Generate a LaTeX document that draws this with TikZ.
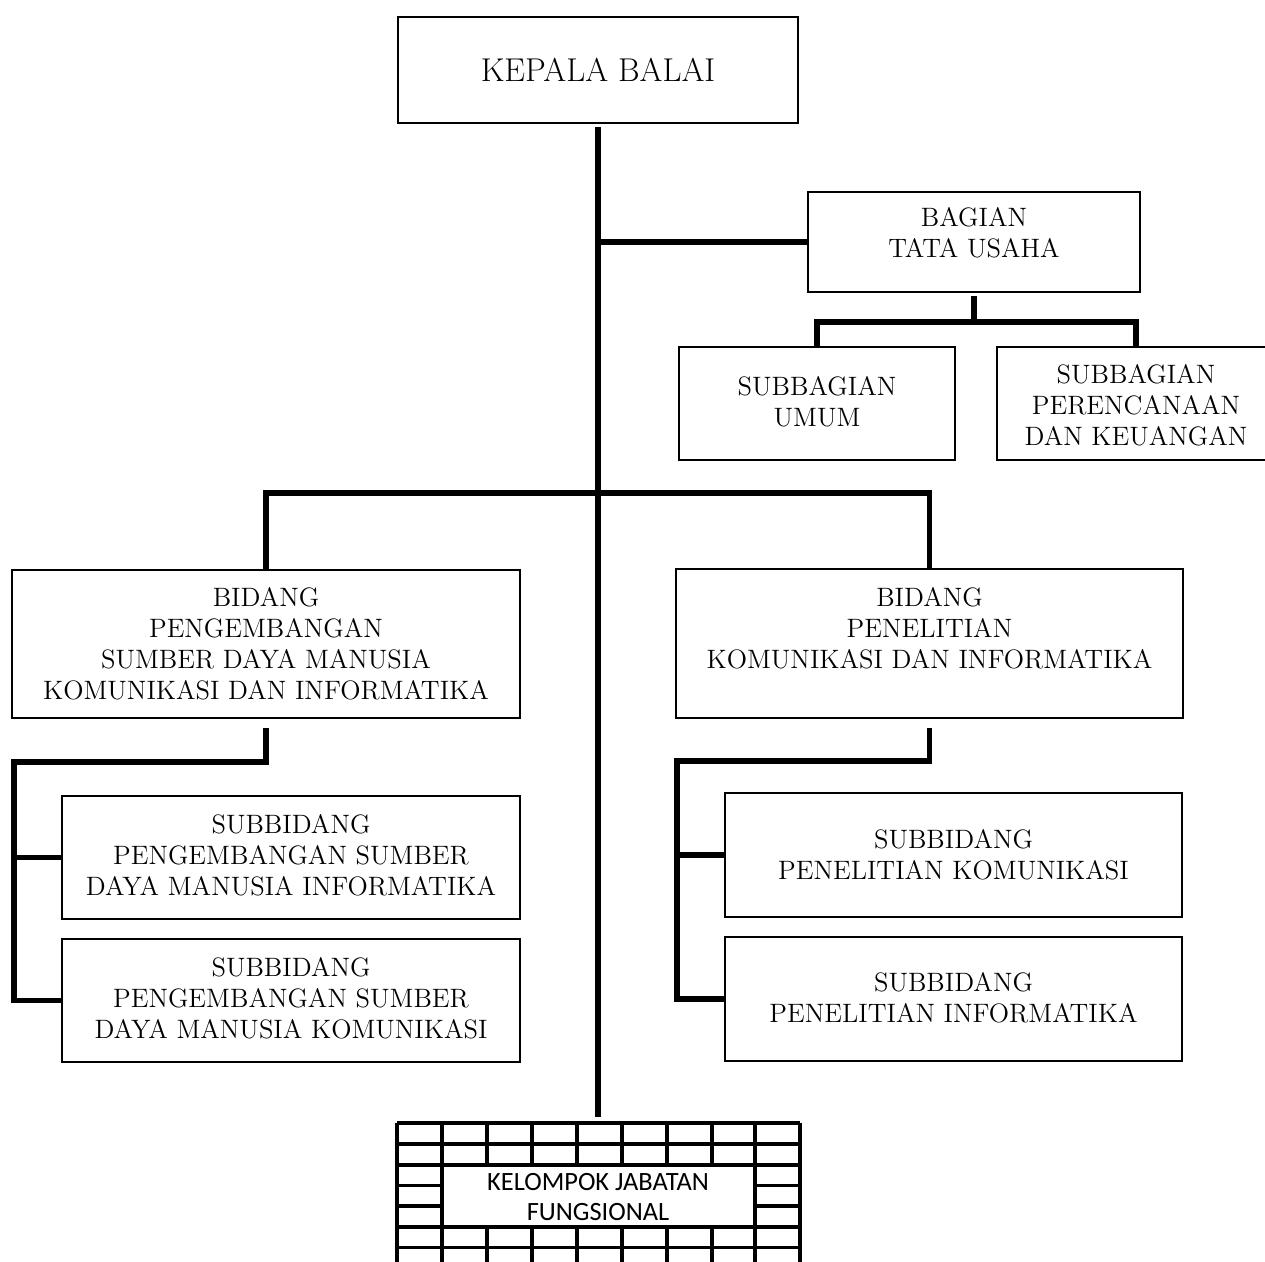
\documentclass[tikz,border=0pt]{standalone}
\usepackage{fontspec}
\newfontfamily\carlito{Carlito}
\begin{document}
\begin{tikzpicture}[x=0.5pt,y=-0.5pt,
  box/.style={draw=black,line width=1.3pt,inner sep=0pt,outer sep=0pt,fill=white},
  txt/.style={align=center,inner sep=0pt,font=\fontsize{13.3}{15.5}\selectfont},
  conn/.style={draw=black,line width=2.6pt,line join=miter},
  gridl/.style={draw=black,line width=1.6pt}]
\useasboundingbox (0,0) rectangle (1265,1262);
\clip (0,0) rectangle (1265,1262);
\fill[white] (0,0) rectangle (1265,1262);

% boxes
\node[box,minimum width=200pt,minimum height=53pt] (kb) at (598,70) {};
\node[box,minimum width=166pt,minimum height=50pt] (bag) at (974,242) {};
\node[box,minimum width=138pt,minimum height=56.5pt] (umum) at (817,403.5) {};
\node[box,minimum width=139pt,minimum height=56.5pt] (per) at (1136,403.5) {};
\node[box,minimum width=254pt,minimum height=74pt] (bidL) at (266,644) {};
\node[box,minimum width=253.5pt,minimum height=74.5pt] (bidR) at (929.5,643.5) {};
\node[box,minimum width=229pt,minimum height=61.5pt] (s1L) at (291,857.5) {};
\node[box,minimum width=229pt,minimum height=61.5pt] (s2L) at (291,1000.5) {};
\node[box,minimum width=228.5pt,minimum height=62pt] (s1R) at (953.5,855) {};
\node[box,minimum width=228.5pt,minimum height=62pt] (s2R) at (953.5,999) {};

% texts
\node[txt,font=\fontsize{16.5}{19}\selectfont] (kbt) at (598,70) {KEPALA BALAI};
\node[txt] (bagt) at (974,233) {BAGIAN\\TATA USAHA};
\node[txt] (umumt) at (817,402) {SUBBAGIAN\\UMUM};
\node[txt] (pert) at (1136,405) {SUBBAGIAN\\PERENCANAAN\\DAN KEUANGAN};
\node[txt] (bidLt) at (266,644) {BIDANG\\PENGEMBANGAN\hspace*{1em}\\SUMBER DAYA MANUSIA\\KOMUNIKASI DAN INFORMATIKA};
\node[txt] (bidRt) at (929.5,628.5) {BIDANG\\PENELITIAN\\KOMUNIKASI DAN INFORMATIKA};
\node[txt] (s1Lt) at (291,855) {SUBBIDANG\\PENGEMBANGAN SUMBER\\DAYA MANUSIA INFORMATIKA};
\node[txt] (s2Lt) at (291,998) {SUBBIDANG\\PENGEMBANGAN SUMBER\\DAYA MANUSIA KOMUNIKASI};
\node[txt] (s1Rt) at (953.5,855) {SUBBIDANG\\PENELITIAN KOMUNIKASI};
\node[txt] (s2Rt) at (953.5,998) {SUBBIDANG\\PENELITIAN INFORMATIKA};

% connectors
\coordinate (gridtop) at (598,1117);
\draw[conn] ([yshift=-2pt]kb.south) -- (gridtop);
\draw[conn] (kb.south |- bag.west) -- (bag.west);
\coordinate (bagj) at (974,322);
\draw[conn] ([yshift=-2pt]bag.south) -- (bagj);
\draw[conn] (umum.north) |- (bagj) -| (per.north);
\coordinate (hj) at (598,493);
\draw[conn] (bidL.north) |- (hj) -| (bidR.north);
\coordinate (lj) at (14,762);
\draw[conn] ([yshift=-5pt]bidL.south) |- (lj) |- (s2L.west);
\draw[conn] (lj |- s1L.west) -- (s1L.west);
\coordinate (rj) at (677,761);
\draw[conn] ([yshift=-5pt]bidR.south) |- (rj) |- (s2R.west);
\draw[conn] (rj |- s1R.west) -- (s1R.west);

% grid of kelompok jabatan fungsional
\foreach \yy in {1123,1144,1165,1227,1247.5,1268}
  \draw[gridl] (397,\yy) -- (800,\yy);
\foreach \yy in {1185.5,1206}{
  \draw[gridl] (397,\yy) -- (442,\yy);
  \draw[gridl] (755,\yy) -- (800,\yy);}
\foreach \xx in {397,442,755,800}
  \draw[gridl] (\xx,1123) -- (\xx,1275);
\foreach \xx in {487,532,577,622,667,712}{
  \draw[gridl] (\xx,1123) -- (\xx,1165);
  \draw[gridl] (\xx,1227) -- (\xx,1275);}
\node[align=center,inner sep=0pt,font=\carlito\fontsize{13.2}{15}\selectfont] (kjf) at (598,1197) {KELOMPOK JABATAN\\FUNGSIONAL};
\end{tikzpicture}
\end{document}
